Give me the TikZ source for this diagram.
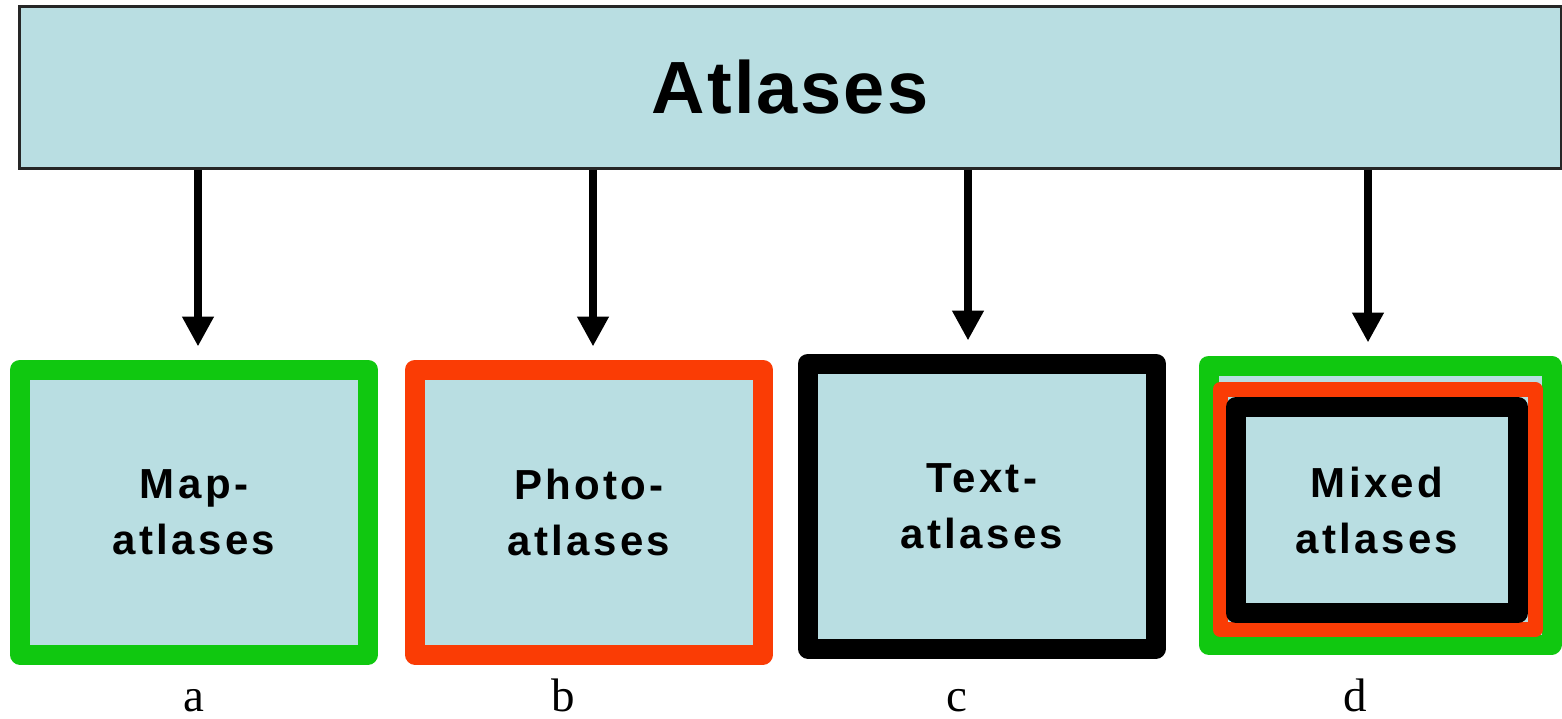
\documentclass[tikz,border=0pt]{standalone}
\usepackage{fontspec}
\setmainfont{Liberation Serif}
\newfontfamily\headfont{Liberation Sans}[LetterSpace=3]
\newfontfamily\boxfont{Liberation Sans}[LetterSpace=8]
\usetikzlibrary{arrows.meta,positioning}
\definecolor{atlasfill}{RGB}{185,222,226}
\definecolor{mapgreen}{RGB}{16,200,16}
\definecolor{photored}{RGB}{250,60,5}

\begin{document}
\begin{tikzpicture}[x=0.5pt, y=-0.5pt
    , head/.style = {rectangle,draw=black!85,line width=1.5pt,fill=atlasfill,minimum width=771pt,minimum height=81pt,font=\headfont\bfseries\fontsize{37}{44}\selectfont}
    , kind/.style = {rectangle,line width=10pt,line join=round,fill=atlasfill,minimum width=174pt,minimum height=142.5pt,align=center,font=\boxfont\bfseries\fontsize{21}{28}\selectfont}
    , link/.style = {-{Triangle[width=15pt,length=15pt]},line width=4pt}
    , tag/.style = {anchor=base,font=\fontsize{23.5}{28}\selectfont}
]
\useasboundingbox (0,0) rectangle (1562,718);
\node[head] (atlases) at (790,87) {Atlases};
\node[kind,draw=mapgreen] (map) at (194,512) {Map-\\atlases};
\node[kind,draw=photored] (photo) at (589,512) {Photo-\\atlases};
\node[kind,draw=black] (text) at (982,506) {Text-\\atlases};
\node[kind,draw=mapgreen,minimum width=171.5pt,minimum height=139.5pt] (mixed) at (1380,505) {};
\node[kind,draw=photored,line width=7.5pt,minimum width=157.5pt,minimum height=120pt] (mixedred) at (1377.5,509.5) {};
\node[kind,draw=black,minimum width=141pt,minimum height=103pt] (mixedblack) at (1377,510) {Mixed\\atlases};
\foreach \b/\dx in {map/2pt, photo/2pt, text/-7pt, mixed/-6pt}
    \draw[link] ([xshift=\dx]\b.north |- atlases.south) -- ([xshift=\dx,yshift=6.5pt]\b.north);
\foreach \l/\x in {a/194, b/563, c/957, d/1355}
    \node[tag] (tag\l) at (\x,711) {\l};
\end{tikzpicture}
\end{document}
